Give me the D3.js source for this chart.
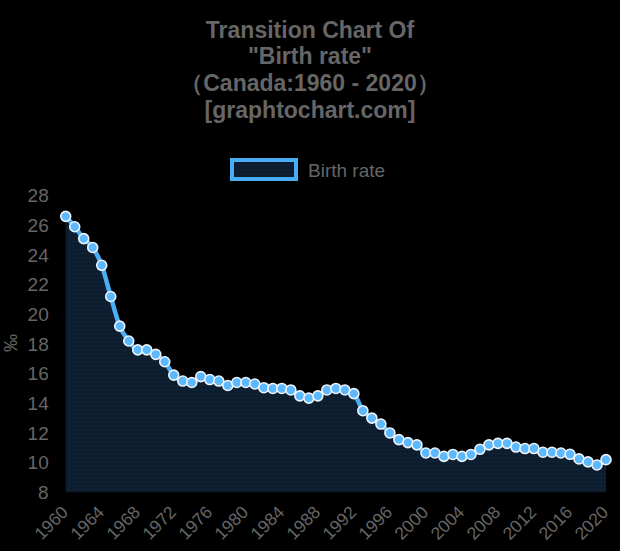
<!DOCTYPE html>
<html lang="en">
<head>
<meta charset="UTF-8">
<title>Birth rate - Canada</title>
<script src="https://d3js.org/d3.v7.min.js"></script>
<style>
    html, body { margin: 0; padding: 0; background: #000; }
    svg { display: block; font-family: "Liberation Sans", Arial, sans-serif; }
    .title { fill: #666; font-weight: bold; font-size: 23px; text-anchor: middle; }
    .axis text { fill: #666; }
    .axis path.domain { display: none; }
</style>
</head>
<body>
<svg width="620" height="551"></svg>
<script>
// data
const years = d3.range(1960, 2021);
const birthRate = [
    26.6, 25.9, 25.1, 24.5, 23.3, 21.2, 19.2, 18.2, 17.6, 17.6,
    17.3, 16.8, 15.9, 15.5, 15.4, 15.8, 15.6, 15.5, 15.2, 15.4,
    15.4, 15.3, 15.05, 15.0, 15.0, 14.9, 14.5, 14.35, 14.5, 14.9,
    15.0, 14.9, 14.65, 13.5, 13.0, 12.6, 12.0, 11.55, 11.35, 11.2,
    10.65, 10.65, 10.42, 10.55, 10.42, 10.55, 10.9, 11.2, 11.3, 11.3,
    11.05, 10.95, 10.95, 10.7, 10.7, 10.65, 10.56, 10.25, 10.05, 9.84,
    10.2
];
const yTicks = [8, 10, 12, 14, 16, 18, 20, 22, 24, 26, 28];
const xTicks = d3.range(1960, 2021, 4);
const titleLines = ['Transition Chart Of', '"Birth rate"', '（Canada:1960 - 2020）', '[graphtochart.com]'];
const seriesName = 'Birth rate';
const yLabel = '‰';

const svg = d3.select('svg');
const data = years.map((y, i) => ({year: y, value: birthRate[i]}));

// scales
const xScale = d3.scaleLinear().domain([1960, 2020]).range([65.7, 606]);
const yScale = d3.scaleLinear().domain([8, 28]).range([492.3, 195.6]);

// dotted fill pattern for the area
const defs = svg.append('defs');
const pat = defs.append('pattern')
    .attr('id', 'dots').attr('width', 4).attr('height', 4)
    .attr('patternUnits', 'userSpaceOnUse');
pat.append('rect').attr('width', 4).attr('height', 4).attr('fill', '#0b1d2f');
pat.append('rect').attr('x', 1).attr('y', 1).attr('width', 1).attr('height', 1).attr('fill', '#1a3047');

// title
svg.append('g').selectAll('text').data(titleLines).join('text')
    .attr('class', 'title')
    .attr('x', 310)
    .attr('y', (d, i) => 37.5 + i * 26.8)
    .text(d => d);

// legend
const legend = svg.append('g');
legend.append('rect')
    .attr('x', 232).attr('y', 160).attr('width', 64).attr('height', 19)
    .attr('fill', 'url(#dots)').attr('stroke', '#49aef5').attr('stroke-width', 4);
legend.append('text')
    .attr('x', 308).attr('y', 176.5)
    .attr('fill', '#666').style('font-size', '19px')
    .text(seriesName);

// axes
const yAxis = svg.append('g').attr('class', 'axis')
    .attr('transform', 'translate(65.7,0)')
    .call(d3.axisLeft(yScale).tickValues(yTicks).tickSize(0).tickPadding(17));
yAxis.selectAll('text').style('font-size', '19px').style('font-family', '"Liberation Sans", Arial, sans-serif');

const xAxis = svg.append('g').attr('class', 'axis')
    .attr('transform', 'translate(0,492.3)')
    .call(d3.axisBottom(xScale).tickValues(xTicks).tickFormat(d3.format('d')).tickSize(0));
xAxis.selectAll('text')
    .attr('x', 0).attr('y', 0).attr('dy', 0)
    .attr('transform', 'translate(3,21) rotate(-45)')
    .style('text-anchor', 'end')
    .style('font-size', '17.5px').style('font-family', '"Liberation Sans", Arial, sans-serif');

svg.append('text')
    .attr('transform', 'translate(17,343) rotate(-90)')
    .attr('text-anchor', 'middle')
    .attr('fill', '#666').style('font-size', '18px')
    .text(yLabel);

// area, line, points
const curve = d3.curveMonotoneX;
const area = d3.area()
    .x(d => xScale(d.year))
    .y0(yScale(8))
    .y1(d => yScale(d.value))
    .curve(curve);
const line = d3.line()
    .x(d => xScale(d.year))
    .y(d => yScale(d.value))
    .curve(curve);

const fig = svg.append('g');
fig.append('path').datum(data).attr('d', area).attr('fill', 'url(#dots)');
fig.append('path').datum(data).attr('d', line)
    .attr('fill', 'none').attr('stroke', '#4aaef5').attr('stroke-width', 4.5);
fig.selectAll('circle').data(data).join('circle')
    .attr('cx', d => xScale(d.year))
    .attr('cy', d => yScale(d.value))
    .attr('r', 5)
    .attr('fill', '#5cb8ff')
    .attr('stroke', '#eef4fa')
    .attr('stroke-width', 1.6);
</script>
</body>
</html>
